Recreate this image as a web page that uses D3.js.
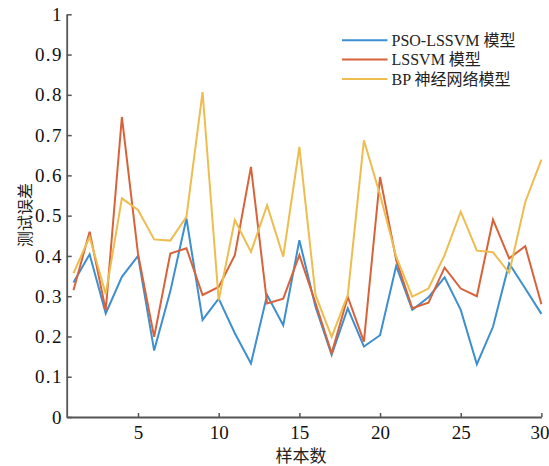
<!DOCTYPE html>
<html>
<head>
<meta charset="utf-8">
<script src="https://cdn.jsdelivr.net/npm/d3@7"></script>
<style>
html,body{margin:0;padding:0;background:#fff;}
svg{display:block;}
</style>
</head>
<body>
<svg id="chart" width="549" height="466"></svg>
<script>
const samples = d3.range(1, 31);
const psoLssvm = [0.334,0.404,0.257,0.348,0.400,0.165,0.312,0.493,0.241,0.294,0.208,0.133,0.303,0.228,0.439,0.274,0.154,0.270,0.175,0.203,0.375,0.266,0.297,0.347,0.266,0.131,0.224,0.381,0.319,0.256];
const lssvm = [0.315,0.460,0.265,0.745,0.405,0.199,0.406,0.419,0.303,0.323,0.402,0.621,0.282,0.294,0.402,0.283,0.158,0.298,0.187,0.596,0.390,0.270,0.284,0.371,0.319,0.300,0.490,0.394,0.424,0.280];
const bpNet = [0.357,0.447,0.305,0.543,0.514,0.441,0.438,0.497,0.807,0.290,0.489,0.410,0.526,0.398,0.671,0.303,0.199,0.303,0.687,0.552,0.398,0.299,0.319,0.402,0.510,0.413,0.409,0.358,0.534,0.639];
const seriesNames = ["PSO-LSSVM 模型", "LSSVM 模型", "BP 神经网络模型"];
const seriesColors = ["#3d8fcf", "#d8633a", "#edbd4f"];
const xTicks = [5, 10, 15, 20, 25, 30];
const yTicks = [0, 0.1, 0.2, 0.3, 0.4, 0.5, 0.6, 0.7, 0.8, 0.9, 1];
const xTitle = "样本数";
const yTitle = "测试误差";

const svg = d3.select("#chart");
const x = d3.scaleLinear().domain([0.58, 30]).range([66.7, 541.4]);
const y = d3.scaleLinear().domain([0, 1]).range([417, 14.3]);
const axisColor = "#555";
const serifFam = "Liberation Serif, DejaVu Serif, serif";

// Y axis
const yAxis = svg.append("g").attr("transform", `translate(${x.range()[0]},0)`)
  .call(d3.axisLeft(y).tickValues(yTicks).tickSizeInner(-5).tickSizeOuter(0).tickPadding(8)
    .tickFormat(d => d === 0 ? "0" : d === 1 ? "1" : d3.format(".1f")(d)));
yAxis.attr("font-family", serifFam).attr("font-size", 19);
yAxis.select(".domain").attr("stroke", axisColor).attr("stroke-width", 1.8);
yAxis.selectAll(".tick line").attr("stroke", axisColor).attr("stroke-width", 1.5);
yAxis.selectAll(".tick text").style("font-family", serifFam).style("font-size", "19px")
  .attr("fill", "#111").attr("letter-spacing", 1.3).attr("x", -4);

// X axis
const xAxis = svg.append("g").attr("transform", `translate(0,${y.range()[0]})`)
  .call(d3.axisBottom(x).tickValues(xTicks).tickSizeInner(-4).tickSizeOuter(0).tickPadding(8));
xAxis.attr("font-family", serifFam).attr("font-size", 19);
xAxis.select(".domain").attr("stroke", axisColor).attr("stroke-width", 1.8);
xAxis.selectAll(".tick line").attr("stroke", axisColor).attr("stroke-width", 1.5);
xAxis.selectAll(".tick text").style("font-family", serifFam).style("font-size", "19px")
  .attr("fill", "#111").attr("y", 9)
  .attr("dx", d => d === 30 ? -2 : 0);

// Lines
const allSeries = [psoLssvm, lssvm, bpNet];
const line = d3.line().x((d, i) => x(samples[i])).y(d => y(d));
allSeries.forEach((s, k) => {
  svg.append("path").datum(s)
    .attr("fill", "none")
    .attr("stroke", seriesColors[k])
    .attr("stroke-width", 2)
    .attr("stroke-linejoin", "miter")
    .attr("d", line);
});

// Legend
const legend = svg.append("g");
const legY = [40.3, 59.5, 79];
seriesNames.forEach((name, k) => {
  legend.append("line").attr("x1", 342).attr("x2", 387.5)
    .attr("y1", legY[k]).attr("y2", legY[k])
    .attr("stroke", seriesColors[k]).attr("stroke-width", 2);
  legend.append("text").attr("x", 391.5).attr("y", legY[k] + 5.5)
    .style("font-family", "Liberation Serif, Noto Sans CJK SC, serif")
    .style("font-size", "16px").attr("fill", "#222").text(name);
});

// Axis titles
svg.append("text").attr("x", 301).attr("y", 462)
  .attr("text-anchor", "middle").style("font-family", "Noto Sans CJK SC, sans-serif")
  .style("font-size", "17px").attr("fill", "#222").text(xTitle);
svg.append("text").attr("transform", "translate(31,215) rotate(-90)")
  .attr("text-anchor", "middle").style("font-family", "Noto Sans CJK SC, sans-serif")
  .style("font-size", "16px").attr("fill", "#222").text(yTitle);
</script>
</body>
</html>
